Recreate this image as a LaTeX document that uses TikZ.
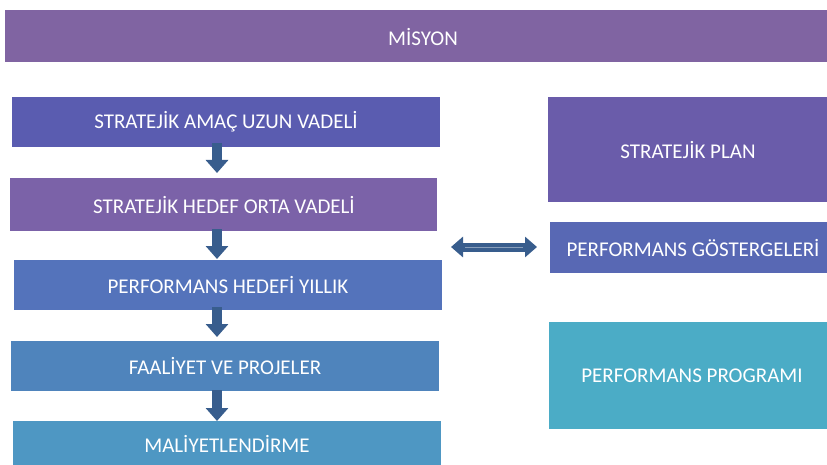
\documentclass[tikz,border=0pt]{standalone}
\usepackage{fontspec}
\setmainfont{Carlito}
\usetikzlibrary{arrows.meta,calc}
\definecolor{cMis}{HTML}{8064A2}
\definecolor{cB1}{HTML}{5A5CB0}
\definecolor{cB2}{HTML}{7B62A8}
\definecolor{cB3}{HTML}{5473BB}
\definecolor{cB4}{HTML}{4F84BC}
\definecolor{cB5}{HTML}{4E97C3}
\definecolor{cSP}{HTML}{6A5CAA}
\definecolor{cPG}{HTML}{5868B4}
\definecolor{cPP}{HTML}{4BACC6}
\definecolor{cArr}{HTML}{385D8D}
\begin{document}
\begin{tikzpicture}[x=1pt,y=-1pt,
  box/.style={inner sep=0pt, text=white, font=\fontsize{21}{24}\selectfont},
  downarrow/.style={cArr, line width=10pt, -{Triangle[width=22pt,length=13pt]}}]
\useasboundingbox (0,0) rectangle (827,465);
\clip (0,0) rectangle (827,465);
\fill[white] (0,0) rectangle (827,465);

\fill[cMis] (5,10) rectangle (845,62);
\node[box] (mis) at (423,37) {MİSYON};

\fill[cB1] (12,97) rectangle (440,147);
\node[box] (b1) at (226,122) {STRATEJİK AMAÇ UZUN VADELİ};
\coordinate (b1s) at (217,143);

\fill[cB2] (10,178) rectangle (437,231);
\node[box] (b2) at (224,205) {STRATEJİK HEDEF ORTA VADELİ};
\coordinate (b2n) at (217,173);
\coordinate (b2s) at (217,229);

\fill[cB3] (14,260) rectangle (442,310);
\node[box] (b3) at (228,285) {PERFORMANS HEDEFİ YILLIK};
\coordinate (b3n) at (217,259);
\coordinate (b3s) at (217,307);

\fill[cB4] (11,341) rectangle (439,391);
\node[box] (b4) at (225,366) {FAALİYET VE PROJELER};
\coordinate (b4n) at (217,337);
\coordinate (b4s) at (217,390);

\fill[cB5] (13,421) rectangle (441,475);
\node[box] (b5) at (227,444) {MALİYETLENDİRME};
\coordinate (b5n) at (217,421);

\fill[cSP] (548,97) rectangle (840,202);
\node[box] (sp) at (688,150) {STRATEJİK PLAN};

\fill[cPG] (550,222) rectangle (840,273);
\node[box] (pg) at (693,248) {PERFORMANS GÖSTERGELERİ};

\fill[cPP] (549,322) rectangle (840,429);
\node[box] (pp) at (692,376) {PERFORMANS PROGRAMI};

\draw[downarrow] (b1s) -- (b2n);
\draw[downarrow] (b2s) -- (b3n);
\draw[downarrow] (b3s) -- (b4n);
\draw[downarrow] (b4s) -- (b5n);

\coordinate (la) at (451,247);
\coordinate (ra) at (537,247);
\draw[cArr, line width=9pt, {Triangle[width=20pt,length=12pt]}-{Triangle[width=20pt,length=12pt]}] (la) -- (ra);
\draw[cArr!60!white, line width=0.6pt] ($(la)+(14,0)$) -- ($(ra)+(-14,0)$);
\end{tikzpicture}
\end{document}
